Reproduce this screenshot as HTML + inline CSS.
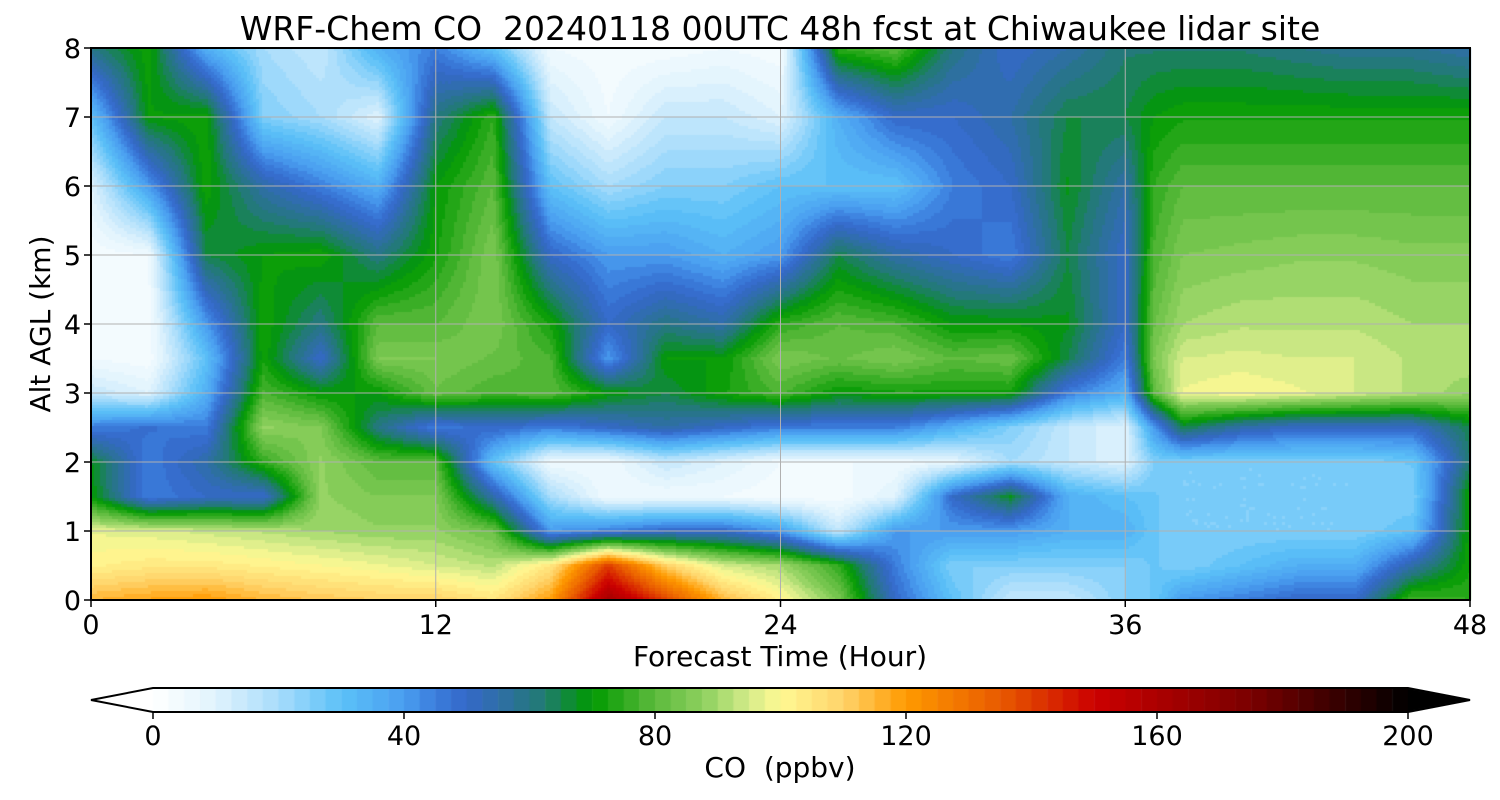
<!DOCTYPE html>
<html><head><meta charset="utf-8">
<style>
body{margin:0;background:#fff;width:1500px;height:800px;overflow:hidden;font-family:"DejaVu Sans","Liberation Sans",sans-serif;}
#wrap{position:relative;width:1500px;height:800px;}
canvas{position:absolute;left:0;top:0;}
svg{position:absolute;left:0;top:0;font-family:"DejaVu Sans","Liberation Sans",sans-serif;}
</style></head>
<body>
<div id="wrap">
<canvas id="cv" width="1500" height="800"></canvas>
<svg id="sv" width="1500" height="800"></svg>
</div>
<script>
// ---- data ----
const hours = [0,2,4,6,8,10,12,14,16,18,20,22,24,26,28,30,32,34,36,37,38,40,42,44,46,48];
const altitudes = [0,0.5,1,1.5,2,2.5,3,3.5,4,5,6,7,8];
const coValues = [
[115,102,97,70,68,45,15,5,3,3,10,30,60],
[118,104,96,45,45,48,10,3,3,5,40,70,72],
[120,104,94,50,55,45,35,30,40,65,72,72,35],
[115,102,92,50,75,88,78,72,72,70,55,25,20],
[112,100,90,88,88,85,70,50,60,72,45,20,15],
[110,98,88,85,80,60,70,85,80,60,35,10,35],
[110,95,88,85,80,45,82,85,80,72,70,60,45],
[105,92,82,55,30,50,78,82,85,85,80,75,30],
[120,105,40,20,5,45,80,78,72,50,30,15,5],
[162,140,45,5,5,50,70,40,50,40,20,5,3],
[140,110,50,5,15,55,65,70,60,40,25,15,3],
[115,95,50,5,10,50,72,70,55,35,25,15,5],
[102,90,40,3,5,45,78,85,75,40,30,10,3],
[85,75,15,3,5,45,70,82,80,65,30,35,75],
[50,45,40,10,5,45,72,85,78,55,30,50,80],
[30,25,40,50,8,35,72,80,70,50,45,50,60],
[15,25,40,68,20,25,72,82,70,45,50,55,50],
[15,25,35,35,15,15,45,65,68,65,68,65,55],
[25,25,35,30,10,10,35,45,50,50,55,65,62],
[28,28,28,28,25,40,80,85,82,78,75,70,62],
[40,25,25,25,25,65,98,95,90,85,80,72,62],
[45,30,25,25,25,55,100,96,92,86,80,72,62],
[50,35,25,25,25,50,98,95,92,87,80,72,60],
[50,35,25,25,25,50,95,95,92,87,80,72,58],
[78,55,30,25,28,50,92,92,90,86,80,72,58],
[75,72,72,72,62,65,88,92,90,86,80,72,55]
];
const xTicks = [0,12,24,36,48];
const yTicks = [0,1,2,3,4,5,6,7,8];
const cbTicks = [0,40,80,120,160,200];
const cmapLevels = [0,10,20,30,40,45,50,55,62,70,80,88,95,100,110,120,135,150,175,200];
const cmapColors = ['#ffffff','#e0f3fd','#a8dcfb','#5bc1f8','#4a9ef0','#3b7ddc','#3468c8','#2f6ea8','#217a74','#009a00','#5cba3c','#90d160','#d5ec8a','#fff993','#ffd36a','#ff9a00','#e85a00','#cc0000','#7a0000','#000000'];

// ---- layout ----
const PX0=91, PX1=1470, PY0=48, PY1=600;
const xS = h => PX0 + (h-0)/48*(PX1-PX0);
const yS = a => PY1 - a/8*(PY1-PY0);
const CB0=153, CB1=1408, CBY=688, CBH=24;
const cbS = v => CB0 + v/200*(CB1-CB0);

function hex2rgb(h){return [parseInt(h.slice(1,3),16),parseInt(h.slice(3,5),16),parseInt(h.slice(5,7),16)];}
function cmap(v){
  v=Math.max(0,Math.min(200,v));
  for(let i=0;i<cmapLevels.length-1;i++){
    if(v<=cmapLevels[i+1]){
      const t=(v-cmapLevels[i])/(cmapLevels[i+1]-cmapLevels[i]);
      const a=hex2rgb(cmapColors[i]),b=hex2rgb(cmapColors[i+1]);
      return 'rgb('+a.map((c,k)=>Math.round(c+(b[k]-c)*t)).join(',')+')';
    }
  }
  return cmapColors[cmapColors.length-1];
}
function findIdx(arr,v){for(let i=0;i<arr.length-1;i++){if(v<=arr[i+1])return i;}return arr.length-2;}
function sample(h,a){
  const i=findIdx(hours,h), j=findIdx(altitudes,a);
  const tx=(h-hours[i])/(hours[i+1]-hours[i]), ty=(a-altitudes[j])/(altitudes[j+1]-altitudes[j]);
  const v00=coValues[i][j],v10=coValues[i+1][j],v01=coValues[i][j+1],v11=coValues[i+1][j+1];
  return v00*(1-tx)*(1-ty)+v10*tx*(1-ty)+v01*(1-tx)*ty+v11*tx*ty;
}
const cv=document.getElementById('cv'), ctx=cv.getContext('2d');
const step=3;
for(let px=PX0;px<PX1;px+=step){
  for(let py=PY0;py<PY1;py+=step){
    const h=(px+step/2-PX0)/(PX1-PX0)*48, a=(PY1-(py+step/2))/(PY1-PY0)*8;
    let v=sample(h,a); v=Math.floor(v/2.5)*2.5+1.25;
    ctx.fillStyle=cmap(v); ctx.fillRect(px,py,step,step);
  }
}
for(let v=0;v<200;v+=2.5){
  ctx.fillStyle=cmap(v+1.25);
  ctx.fillRect(cbS(v),CBY,cbS(v+2.5)-cbS(v)+0.5,CBH);
}
ctx.fillStyle='#000';ctx.beginPath();ctx.moveTo(CB1,CBY);ctx.lineTo(1470,CBY+CBH/2);ctx.lineTo(CB1,CBY+CBH);ctx.fill();

const NS='http://www.w3.org/2000/svg', sv=document.getElementById('sv');
function el(tag,attrs,text){const e=document.createElementNS(NS,tag);for(const k in attrs)e.setAttribute(k,attrs[k]);if(text!==undefined)e.textContent=text;sv.appendChild(e);return e;}
xTicks.forEach(t=>{
  const g=el('line',{x1:xS(t),x2:xS(t),y1:PY0,y2:PY1,stroke:'#b0b0b0','stroke-width':1});
  
  
  const tk=el('line',{x1:xS(t),x2:xS(t),y1:PY1,y2:PY1+7,stroke:'#000','stroke-width':1.5});
  
  
  const l=el('text',{x:xS(t),y:PY1+34,'font-size':27,'text-anchor':'middle'},t);
  
  
});
yTicks.forEach(t=>{
  const g=el('line',{x1:PX0,x2:PX1,y1:yS(t),y2:yS(t),stroke:'#b0b0b0','stroke-width':1});
  
  
  const tk=el('line',{x1:PX0-7,x2:PX0,y1:yS(t),y2:yS(t),stroke:'#000','stroke-width':1.5});
  
  
  const l=el('text',{x:PX0-10,y:yS(t)+10,'font-size':27,'text-anchor':'end'},t);
  
  
});
const fr=el('rect',{x:PX0,y:PY0,width:PX1-PX0,height:PY1-PY0,fill:'none',stroke:'#000','stroke-width':2});


const tt=el('text',{x:780,y:40,'font-size':33,'text-anchor':'middle','xml:space':'preserve',style:'white-space:pre'},'WRF-Chem CO  20240118 00UTC 48h fcst at Chiwaukee lidar site');


const xt=el('text',{x:780,y:666,'font-size':28,'text-anchor':'middle'},'Forecast Time (Hour)');


const yt=el('text',{x:0,y:0,'font-size':28,'text-anchor':'middle',transform:'translate(50,324) rotate(-90)'},'Alt AGL (km)');


const cbo=el('path',{d:`M${CB0},${CBY} L${CB1},${CBY} L1470,${CBY+CBH/2} L${CB1},${CBY+CBH} L${CB0},${CBY+CBH} L91,${CBY+CBH/2} Z`,fill:'none',stroke:'#000','stroke-width':2});


cbTicks.forEach(t=>{
  const tk=el('line',{x1:cbS(t),x2:cbS(t),y1:CBY+CBH,y2:CBY+CBH+7,stroke:'#000','stroke-width':1.5});
  
  
  const l=el('text',{x:cbS(t),y:CBY+CBH+33,'font-size':27,'text-anchor':'middle'},t);
  
  
});
const ct=el('text',{x:780,y:777,'font-size':28,'text-anchor':'middle','xml:space':'preserve',style:'white-space:pre'},'CO  (ppbv)');


</script>
</body></html>
